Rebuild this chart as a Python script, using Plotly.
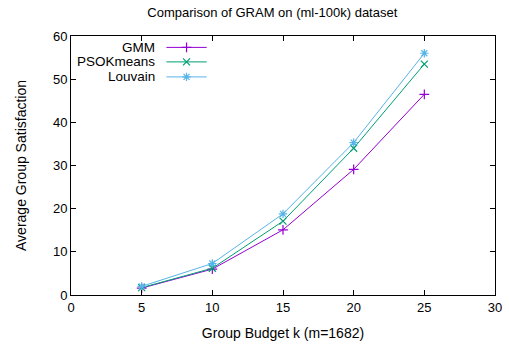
import plotly.graph_objects as go

# Group budget values on the x axis
budgets = [5, 10, 15, 20, 25]

# Average group satisfaction per method
gmm = [1.6, 6.0, 15.1, 29.1, 46.5]
psok = [1.7, 6.2, 17.1, 34.0, 53.5]
louvain = [2.0, 7.3, 18.8, 35.3, 56.0]

names = ["GMM", "PSOKmeans", "Louvain"]
colors = ["#9400d3", "#009e73", "#56b4e9"]
symbols = ["cross-thin-open", "x-thin-open", "asterisk-open"]
series = [gmm, psok, louvain]

x_ticks = [0, 5, 10, 15, 20, 25, 30]
y_ticks = [0, 10, 20, 30, 40, 50, 60]

FONT = "Liberation Sans, Arial, sans-serif"

fig = go.Figure()
for name, ys, c, s in zip(names, series, colors, symbols):
    fig.add_trace(go.Scatter(
        x=budgets, y=ys, mode="lines+markers", name=name,
        line=dict(color=c, width=1),
        marker=dict(symbol=s, size=7, color=c, line=dict(color=c, width=1.2)),
        showlegend=False, hoverinfo="x+y",
    ))

# gnuplot-style key: label right-aligned, sample line to its right
key_y = [0.956, 0.900, 0.842]
for name, c, s, ky in zip(names, colors, symbols, key_y):
    fig.add_trace(go.Scatter(
        x=[0.225, 0.32], y=[ky, ky], mode="lines", xaxis="x2", yaxis="y2",
        line=dict(color=c, width=1), showlegend=False, hoverinfo="skip",
    ))
    fig.add_trace(go.Scatter(
        x=[0.2725], y=[ky], mode="markers", xaxis="x2", yaxis="y2",
        marker=dict(symbol=s, size=7, color=c, line=dict(color=c, width=1.2)),
        showlegend=False, hoverinfo="skip",
    ))
    fig.add_annotation(
        x=0.202, y=ky, xref="x2", yref="y2", text=name, showarrow=False,
        xanchor="right", yanchor="middle",
        font=dict(family=FONT, size=13.5, color="black"),
    )

axis_common = dict(
    showgrid=False, zeroline=False, showline=True, linecolor="black",
    linewidth=1, mirror="ticks", ticks="inside", ticklen=5, tickcolor="black",
    tickfont=dict(family=FONT, size=13, color="black"), automargin=False,
)

fig.update_layout(
    width=509, height=348,
    margin=dict(l=71, r=14, t=36, b=53),
    paper_bgcolor="white", plot_bgcolor="white",
    title=dict(text="Comparison of GRAM on (ml-100k) dataset",
               x=0.535, xanchor="center", y=0.965, yanchor="middle",
               font=dict(family=FONT, size=13, color="black")),
    xaxis=dict(range=[0, 30], tickvals=x_ticks,
               title=dict(text="Group Budget k (m=1682)", standoff=14,
                          font=dict(family=FONT, size=14, color="black")),
               **axis_common),
    yaxis=dict(range=[0, 60], tickvals=y_ticks,
               title=dict(text="Average Group Satisfaction", standoff=23,
                          font=dict(family=FONT, size=14, color="black")),
               **axis_common),
    xaxis2=dict(range=[0, 1], overlaying="x", visible=False, fixedrange=True),
    yaxis2=dict(range=[0, 1], overlaying="y", visible=False, fixedrange=True),
    showlegend=False,
)

fig.write_html("out.html")
